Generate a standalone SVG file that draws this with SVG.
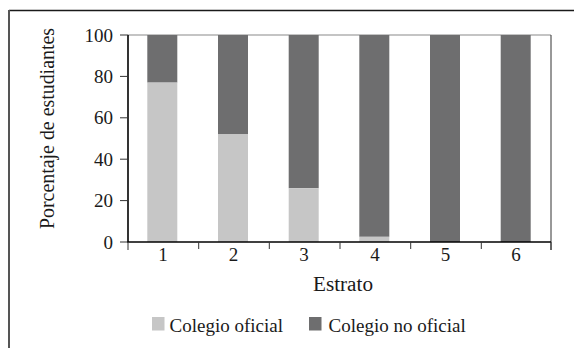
<svg xmlns="http://www.w3.org/2000/svg" width="574" height="348" viewBox="0 0 574 348">
<style>
text{font-family:"Liberation Serif","Times New Roman",serif;fill:#1a1a1a}
.tk{font-size:19px;text-anchor:end}
.xl{font-size:19px;text-anchor:middle}
.lg{font-size:19px}
.light{fill:#c6c6c6}
.dark{fill:#6e6e6f}
.ax{stroke:#000;stroke-width:1.6;fill:none}
.tick{stroke:#333;stroke-width:1;fill:none}
</style>
<rect width="574" height="348" fill="#fff"/>
<g id="frame">
<line x1="9" y1="10.5" x2="574" y2="10.5" stroke="#1a1a1a" stroke-width="1.5"/>
<line x1="9" y1="10" x2="9" y2="348" stroke="#555" stroke-width="2"/>
</g>
<g id="plot-border">
<line x1="128" y1="35" x2="551" y2="35" stroke="#8a8a8a" stroke-width="1.2"/>
<line x1="551" y1="35" x2="551" y2="250" stroke="#333" stroke-width="1"/>
</g>
<g id="bars">
<g id="bar1"><rect class="dark" x="147.3" y="35" width="30" height="47.6"/><rect class="light" x="147.3" y="82.6" width="30" height="159.4"/></g>
<g id="bar2"><rect class="dark" x="218" y="35" width="30" height="99.4"/><rect class="light" x="218" y="134.4" width="30" height="107.6"/></g>
<g id="bar3"><rect class="dark" x="288.7" y="35" width="30" height="153.2"/><rect class="light" x="288.7" y="188.2" width="30" height="53.8"/></g>
<g id="bar4"><rect class="dark" x="359.3" y="35" width="30" height="201.8"/><rect class="light" x="359.3" y="236.8" width="30" height="5.2"/></g>
<g id="bar5"><rect class="dark" x="430" y="35" width="30" height="207"/></g>
<g id="bar6"><rect class="dark" x="500.7" y="35" width="30" height="207"/></g>
</g>
<g id="axes">
<line class="ax" x1="128" y1="35" x2="128" y2="242"/>
<line class="ax" x1="127" y1="242" x2="551" y2="242"/>
<path class="tick" d="M120 35H128M120 76.4H128M120 117.8H128M120 159.2H128M120 200.6H128M120 242H128"/>
<path class="tick" d="M128 242V250M198.7 242V249M269.3 242V249M340 242V249M410.7 242V249M481.3 242V249M551 242V250"/>
</g>
<g id="y-labels">
<text class="tk" x="113" y="41.5">100</text>
<text class="tk" x="113" y="82.9">80</text>
<text class="tk" x="113" y="124.3">60</text>
<text class="tk" x="113" y="165.7">40</text>
<text class="tk" x="113" y="207.1">20</text>
<text class="tk" x="113" y="248.5">0</text>
</g>
<g id="x-labels">
<text class="xl" x="163" y="261">1</text>
<text class="xl" x="233.5" y="261">2</text>
<text class="xl" x="304" y="261">3</text>
<text class="xl" x="375" y="261">4</text>
<text class="xl" x="445.5" y="261">5</text>
<text class="xl" x="516" y="261">6</text>
</g>
<text id="x-title" x="343" y="290.5" font-size="20" text-anchor="middle" textLength="60" lengthAdjust="spacingAndGlyphs">Estrato</text>
<text id="y-title" transform="translate(54,128.5) rotate(-90)" font-size="20" text-anchor="middle" textLength="201" lengthAdjust="spacingAndGlyphs">Porcentaje de estudiantes</text>
<g id="legend">
<g id="legend-oficial"><rect class="light" x="152" y="317" width="12.5" height="13.5"/><text class="lg" x="169.5" y="332">Colegio oficial</text></g>
<g id="legend-no-oficial"><rect class="dark" x="309" y="317" width="12.5" height="13.5"/><text class="lg" x="328.5" y="332">Colegio no oficial</text></g>
</g>
</svg>
